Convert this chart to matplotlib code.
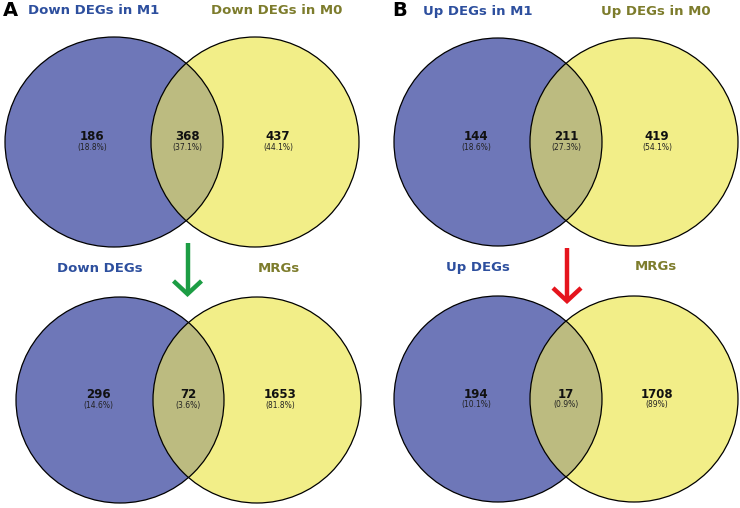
import matplotlib
matplotlib.use("Agg")
import matplotlib.pyplot as plt
from matplotlib.patches import Ellipse

# ---------------- data ----------------
panel_letters = ["A", "B"]
set_names_a_top = ["Down DEGs in M1", "Down DEGs in M0"]
counts_a_top = [186, 368, 437]
set_names_b_top = ["Up DEGs in M1", "Up DEGs in M0"]
counts_b_top = [144, 211, 419]
set_names_a_bot = ["Down DEGs", "MRGs"]
counts_a_bot = [296, 72, 1653]
set_names_b_bot = ["Up DEGs", "MRGs"]
counts_b_bot = [194, 17, 1708]

# ---------------- style / layout ----------------
W, H = 740, 508
BLUE = "#6e77b8"
YELLOW = "#f2ee88"
OVERLAP = "#bcbb80"
TXT_BLUE = "#2d4f9e"
TXT_OLIVE = "#7d7c2c"
FONT = "DejaVu Sans"

fig = plt.figure(figsize=(W / 100, H / 100), dpi=100)
ax = fig.add_axes([0, 0, 1, 1])
ax.set_xlim(0, W)
ax.set_ylim(H, 0)
ax.axis("off")

# layout per panel: (blue cx, blue rx, yellow cx, yellow rx, cy, ry, title_y)
layouts = [
    dict(names=set_names_a_top, counts=counts_a_top, bx=114, brx=109, yx=255, yrx=104, cy=142, ry=105, ty=11),
    dict(names=set_names_b_top, counts=counts_b_top, bx=498, brx=104, yx=634, yrx=104, cy=142, ry=104, ty=11),
    dict(names=set_names_a_bot, counts=counts_a_bot, bx=120, brx=104, yx=257, yrx=104, cy=400, ry=103, ty=268),
    dict(names=set_names_b_bot, counts=counts_b_bot, bx=498, brx=104, yx=634, yrx=104, cy=399, ry=103, ty=267),
]


def fmt_pct(v, total):
    p = round(100 * v / total, 1)
    s = f"{p:.1f}"
    if s.endswith(".0"):
        s = s[:-2]
    return f"({s}%)"


for L in layouts:
    blue = Ellipse((L["bx"], L["cy"]), 2 * L["brx"], 2 * L["ry"], facecolor=BLUE, edgecolor="none", zorder=1)
    ax.add_patch(blue)
    yel = Ellipse((L["yx"], L["cy"]), 2 * L["yrx"], 2 * L["ry"], facecolor=YELLOW, edgecolor="none", zorder=2)
    ax.add_patch(yel)
    clipb = Ellipse((L["bx"], L["cy"]), 2 * L["brx"], 2 * L["ry"], facecolor="none", edgecolor="none")
    ax.add_patch(clipb)
    ov = Ellipse((L["yx"], L["cy"]), 2 * L["yrx"], 2 * L["ry"], facecolor=OVERLAP, edgecolor="none", zorder=3)
    ax.add_patch(ov)
    ov.set_clip_path(clipb)
    for (cx, rx) in [(L["bx"], L["brx"]), (L["yx"], L["yrx"])]:
        ax.add_patch(Ellipse((cx, L["cy"]), 2 * rx, 2 * L["ry"], facecolor="none",
                             edgecolor="black", lw=0.9, zorder=4))
    # intersection x (midpoint of inner edges)
    mid = ((L["yx"] - L["yrx"]) + (L["bx"] + L["brx"])) / 2
    xs = [L["bx"] - 22, mid, L["yx"] + 23]
    total = sum(L["counts"])
    for x, c in zip(xs, L["counts"]):
        ax.text(x, L["cy"] - 5, str(c), ha="center", va="center", fontsize=8.5,
                fontweight="bold", family=FONT, color="#111111", zorder=5)
        ax.text(x, L["cy"] + 5.5, fmt_pct(c, total), ha="center", va="center", fontsize=5.5,
                family=FONT, color="#222222", zorder=5)
    ax.text(L["bx"] - 20, L["ty"], L["names"][0], ha="center", va="center", fontsize=9.5,
            fontweight="bold", family=FONT, color=TXT_BLUE)
    ax.text(L["yx"] + 22, L["ty"], L["names"][1], ha="center", va="center", fontsize=9.5,
            fontweight="bold", family=FONT, color=TXT_OLIVE)

# panel letters
ax.text(3, 11, panel_letters[0], ha="left", va="center", fontsize=14, fontweight="bold",
        family=FONT, color="black")
ax.text(392, 11, panel_letters[1], ha="left", va="center", fontsize=14, fontweight="bold",
        family=FONT, color="black")


def arrow(x, y0, y1, color):
    ax.plot([x, x], [y0, y1 - 2], color=color, lw=3.2, solid_capstyle="butt", zorder=6)
    ax.plot([x - 14, x, x + 14], [y1 - 13, y1, y1 - 13], color=color, lw=3.2,
            solid_joinstyle="miter", solid_capstyle="butt", zorder=6)


arrow(187.5, 243, 294, "#1c9d44")
arrow(567, 248, 301, "#e5141d")

fig.savefig("out.png", dpi=100)
